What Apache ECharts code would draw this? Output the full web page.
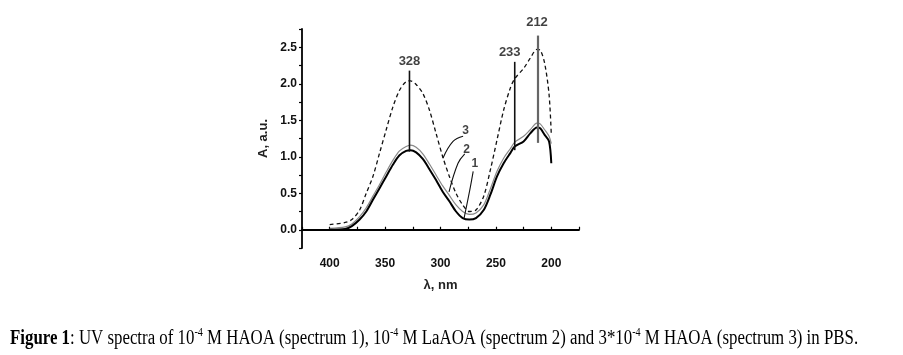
<!DOCTYPE html>
<html><head><meta charset="utf-8">
<script src="https://cdn.jsdelivr.net/npm/echarts@6/dist/echarts.min.js"></script>
<style>html,body{margin:0;padding:0;background:#fff}#c{width:903px;height:355px}</style>
</head><body><div id="c"></div><script>
// wavelength (nm)
const wavelength = [400, 386, 380, 373, 367, 361, 355, 349, 343, 337, 331, 327, 322, 316, 310, 304, 298, 292, 286, 280, 274, 268, 261, 255, 249, 243, 237, 233, 225, 219, 213, 210, 206, 202, 200];
// spectrum 1: 1e-4 M HAOA
const spectrum1 = [0.00, 0.01, 0.05, 0.14, 0.25, 0.41, 0.57, 0.73, 0.89, 1.02, 1.08, 1.09, 1.06, 0.97, 0.83, 0.68, 0.52, 0.39, 0.25, 0.16, 0.14, 0.16, 0.27, 0.48, 0.73, 0.91, 1.05, 1.14, 1.21, 1.32, 1.40, 1.39, 1.30, 1.21, 0.91];
// spectrum 2: 1e-4 M LaAOA
const spectrum2 = [0.02, 0.04, 0.08, 0.18, 0.30, 0.46, 0.62, 0.79, 0.95, 1.08, 1.14, 1.16, 1.13, 1.04, 0.90, 0.75, 0.60, 0.47, 0.34, 0.25, 0.21, 0.23, 0.34, 0.56, 0.80, 0.98, 1.11, 1.20, 1.28, 1.37, 1.46, 1.45, 1.37, 1.28, 1.18];
// spectrum 3: 3e-4 M HAOA
const spectrum3 = [0.07, 0.10, 0.14, 0.27, 0.50, 0.73, 1.05, 1.37, 1.68, 1.91, 2.03, 2.04, 1.99, 1.87, 1.64, 1.32, 1.00, 0.73, 0.50, 0.34, 0.25, 0.27, 0.46, 0.82, 1.23, 1.64, 1.94, 2.07, 2.21, 2.35, 2.47, 2.46, 2.28, 1.85, 1.30];
// peak markers
const peakX = [328, 233, 212];
const peakLow = [1.07, 1.09, 1.19];
const peakHigh = [2.18, 2.30, 2.66];
const peakLabels = ['328', '233', '212'];
// spectrum number labels and leader lines
const numLabels = ['1', '2', '3'];
const numLabelX = [269, 276.5, 277.4];
const numLabelY = [0.90, 1.09, 1.36];
const leader1 = [[270.5, 0.80], [273.5, 0.55], [278.7, 0.16]];
const leader2 = [[278.1, 1.04], [284.2, 0.91], [292.3, 0.52]];
const leader3 = [[279.6, 1.28], [288.7, 1.21], [297.8, 0.98]];
// axis ticks
const xMin = 175, xMax = 425, xStep = 25;
const yMin = -0.25, yMax = 2.75, yStep = 0.25;

const chart = echarts.init(document.getElementById('c'));
const pairs = ys => wavelength.map((w, i) => [w, ys[i]]);
const font = 'Arial';

const series = [
  {type: 'line', data: pairs(spectrum3), symbol: 'none', smooth: 0.3, lineStyle: {color: '#111', width: 1.3, type: [4, 3]}, z: 3},
  {type: 'line', data: pairs(spectrum2), symbol: 'none', smooth: 0.3, lineStyle: {color: '#888', width: 1.2}, z: 3},
  {type: 'line', data: pairs(spectrum1), symbol: 'none', smooth: 0.3, lineStyle: {color: '#000', width: 2}, z: 4}
];
peakX.forEach((x, i) => {
  series.push({
    type: 'line', symbol: 'none', clip: false,
    lineStyle: {color: i === 2 ? '#666' : '#111', width: i === 2 ? 2.2 : 1.6},
    data: [[x, peakLow[i]], [x, peakHigh[i]]],
    z: 5
  });
});
const peakOffsets = [[0, 0], [-5, 0], [-1, -4]];
series.push({
  type: 'scatter', symbolSize: 0, z: 6, clip: false,
  data: peakX.map((x, i) => ({value: [x, peakHigh[i]], label: {show: true, formatter: peakLabels[i], position: 'top', distance: 3, offset: peakOffsets[i], fontFamily: font, fontWeight: 'bold', fontSize: 13, color: '#111'}}))
});
[leader1, leader2, leader3].forEach(d => {
  series.push({type: 'line', symbol: 'none', smooth: 0.4, data: d, lineStyle: {color: '#111', width: 1.1}, z: 5});
});
series.push({
  type: 'scatter', symbolSize: 0, z: 6,
  data: numLabels.map((t, i) => ({value: [numLabelX[i], numLabelY[i]], label: {show: true, formatter: t, position: 'inside', fontFamily: font, fontWeight: 'bold', fontSize: 12, color: '#111'}}))
});

chart.setOption({
  animation: false,
  backgroundColor: '#fff',
  grid: {left: 302, right: 324, top: 29, bottom: 107, containLabel: false},
  xAxis: {
    type: 'value', min: xMin, max: xMax, interval: xStep, inverse: true,
    name: 'λ, nm', nameLocation: 'middle', nameGap: 31,
    nameTextStyle: {fontFamily: font, fontWeight: 'bold', fontSize: 13, color: '#222'},
    axisLine: {lineStyle: {color: '#000', width: 1.8}},
    axisTick: {inside: true, length: 3, lineStyle: {color: '#000', width: 1.2}},
    splitLine: {show: false},
    axisLabel: {margin: 10, fontFamily: font, fontWeight: 'bold', fontSize: 12, color: '#111',
      formatter: v => (v % 50 === 0 && v >= 200 && v <= 400) ? String(v) : ''}
  },
  yAxis: {
    type: 'value', min: yMin, max: yMax, interval: yStep,
    name: 'A, a.u.', nameLocation: 'middle', nameRotate: 90, nameGap: 32,
    nameTextStyle: {fontFamily: font, fontWeight: 'bold', fontSize: 13, color: '#222'},
    axisLine: {show: true, lineStyle: {color: '#000', width: 1.8}},
    axisTick: {show: true, inside: false, length: 3, lineStyle: {color: '#000', width: 1.2}},
    splitLine: {show: false},
    axisLabel: {margin: 5, fontFamily: font, fontWeight: 'bold', fontSize: 12, color: '#111',
      formatter: v => { const r = Math.round(v * 100); return (r % 50 === 0 && r >= 0 && r <= 250) ? (v).toFixed(1) : ''; }}
  },
  series: series,
  graphic: [{
    type: 'text', left: 10, top: 327, scaleX: 0.842, originX: 0,
    style: {
      text: '{b|Figure 1}{n|: UV spectra of 10}{s|-4}{n| M HAOA (spectrum 1), 10}{s|-4}{n| M LaAOA (spectrum 2) and 3*10}{s|-4}{n| M HAOA (spectrum 3) in PBS.}',
      rich: {
        b: {fontFamily: 'Liberation Serif', fontWeight: 'bold', fontSize: 20, lineHeight: 22, color: '#000', verticalAlign: 'bottom'},
        n: {fontFamily: 'Liberation Serif', fontSize: 20, lineHeight: 22, color: '#000', verticalAlign: 'bottom'},
        s: {fontFamily: 'Liberation Serif', fontSize: 12, lineHeight: 22, color: '#000', verticalAlign: 'top'}
      }
    }
  }]
});
</script></body></html>
